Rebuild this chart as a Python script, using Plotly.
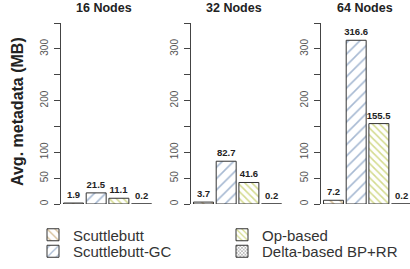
import plotly.graph_objects as go

panels = ["16 Nodes", "32 Nodes", "64 Nodes"]
series = ["Scuttlebutt", "Scuttlebutt-GC", "Op-based", "Delta-based BP+RR"]
values = {
    "Scuttlebutt": [1.9, 3.7, 7.2],
    "Scuttlebutt-GC": [21.5, 82.7, 316.6],
    "Op-based": [11.1, 41.6, 155.5],
    "Delta-based BP+RR": [0.2, 0.2, 0.2],
}
ytick_vals = [0, 50, 100, 150, 200, 250, 300, 350]
ytick_text = ["0", "50", "100", "", "200", "", "300", ""]

styles = {
    "Scuttlebutt": dict(shape="\\", fg="#b0843a", size=7, sol=0.25, leg="legend", rank=1),
    "Scuttlebutt-GC": dict(shape="/", fg="#4f74a6", size=8, sol=0.2, leg="legend2", rank=1),
    "Op-based": dict(shape="\\", fg="#aab820", size=5, sol=0.32, leg="legend", rank=2),
    "Delta-based BP+RR": dict(shape="x", fg="#444444", size=3, sol=0.45, leg="legend2", rank=2),
}

W, H = 410, 269
px_left = [61, 191, 321]
title_cx = [104, 234, 365]
spacing = 22.7
start = -0.55

fig = go.Figure()
for p, name in enumerate(panels):
    xa = "x" if p == 0 else f"x{p+1}"
    ya = "y" if p == 0 else f"y{p+1}"
    for i, s in enumerate(series):
        st = styles[s]
        fig.add_trace(go.Bar(
            x=[i], y=[values[s][p]], width=0.88,
            name=s, legendgroup=s, showlegend=(p == 0), legend=st["leg"], legendrank=st["rank"],
            xaxis=xa, yaxis=ya,
            marker=dict(color="white", line=dict(color="#333333", width=1),
                        pattern=dict(shape=st["shape"], fgcolor=st["fg"], bgcolor="white",
                                     size=st["size"], solidity=st["sol"])),
            text=[f"{values[s][p]:.1f}"], textposition="outside",
            textfont=dict(family="Liberation Sans, Arial", size=9.5, color="#222222", weight="bold"),
            constraintext="none", cliponaxis=False,
        ))

leg_common = dict(orientation="h", xanchor="left", yanchor="middle",
                  entrywidth=144, font=dict(size=15, color="#333333"),
                  traceorder="normal", itemwidth=30, bgcolor="rgba(0,0,0,0)")
layout = dict(
    width=W, height=H, margin=dict(l=0, r=0, t=0, b=0, autoexpand=False),
    plot_bgcolor="white", paper_bgcolor="white", barmode="overlay",
    font=dict(family="Liberation Sans, Arial", color="#222222"),
    showlegend=True,
    legend=dict(x=33 / W, y=(H - 235) / H, **leg_common),
    legend2=dict(x=33 / W, y=(H - 251.5) / H, **leg_common),
)
ydom = [(H - 204) / H, (H - 23) / H]
for p in range(3):
    sfx = "" if p == 0 else str(p + 1)
    left = px_left[p]
    right = min(left + 94, W)
    rng_end = start + (right - left) / spacing
    layout["xaxis" + sfx] = dict(domain=[left / W, right / W], range=[start, rng_end],
                                 showgrid=False, zeroline=False, showline=False, automargin=False,
                                 showticklabels=False, ticks="", anchor="y" + sfx)
    layout["yaxis" + sfx] = dict(domain=ydom, range=[0, 350], anchor="x" + sfx, automargin=False,
                                 showgrid=False, zeroline=False, showline=True,
                                 linecolor="#444444", linewidth=1,
                                 ticks="outside", ticklen=6, tickcolor="#444444",
                                 tickvals=ytick_vals, ticktext=ytick_text, tickangle=-90,
                                 tickfont=dict(size=10, color="#555555"), ticklabelstandoff=2)
fig.update_layout(**layout)

for p, name in enumerate(panels):
    fig.add_annotation(text=f"<b>{name}</b>", x=title_cx[p] / W, y=(H - 8) / H,
                       xref="paper", yref="paper",
                       showarrow=False, font=dict(size=12.5, color="#222222"),
                       xanchor="center", yanchor="middle")

fig.add_annotation(text="<b>Avg. metadata (MB)</b>", x=17 / W, y=(H - 112) / H,
                   xref="paper", yref="paper", showarrow=False, textangle=-90,
                   font=dict(size=16, color="#222222"), xanchor="center", yanchor="middle")

fig.write_html("out.html", config={"displayModeBar": False},
               post_script="document.body.style.margin='0';")
